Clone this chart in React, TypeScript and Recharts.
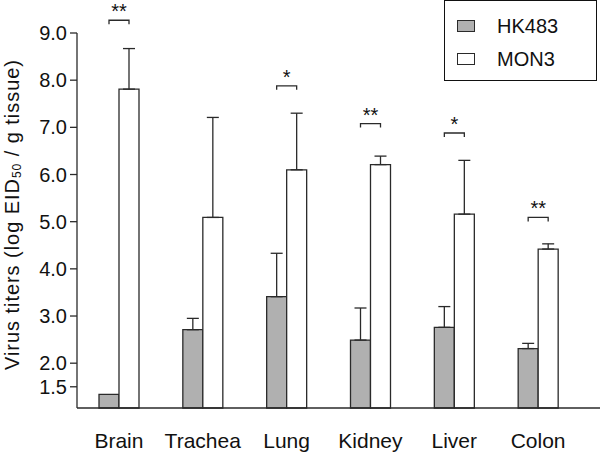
import React from 'react';
import { BarChart, Bar, XAxis, YAxis, ErrorBar, Legend, Rectangle } from 'recharts';

const categories = ['Brain', 'Trachea', 'Lung', 'Kidney', 'Liver', 'Colon'];
const hk483 = [1.34, 2.71, 3.41, 2.49, 2.76, 2.31];
const hk483Err = [null, 0.24, 0.92, 0.68, 0.44, 0.11];
const mon3 = [7.81, 5.09, 6.1, 6.21, 5.16, 4.42];
const mon3Err = [0.86, 2.12, 1.2, 0.18, 1.14, 0.11];
const sigStars = ['**', '', '*', '**', '*', '**'];
const sigLevel = [9.27, null, 7.88, 7.08, 6.88, 5.09];
const yTicks = [1.5, 2, 3, 4, 5, 6, 7, 8, 9];

const Y_MIN = 1.05;
const Y_MAX = 9;
const FONT = 'Liberation Sans, Arial, Helvetica, sans-serif';
const INK = '#2a2a2a';

const chartData = categories.map((name, i) => ({
  name,
  hk: hk483[i],
  hkErr: hk483Err[i] == null ? null : [0, hk483Err[i]],
  mon: mon3[i],
  monErr: [0, mon3Err[i]],
  stars: sigStars[i],
  sig: sigLevel[i],
}));

// white bar + significance bracket spanning both bar centres
function MonShape(props: any) {
  const { x, y, width, height, payload } = props;
  const perUnit = height / (payload.mon - Y_MIN);
  let bracket = null;
  if (payload.sig != null) {
    const by = y + height - (payload.sig - Y_MIN) * perUnit;
    const x1 = x - width / 2;
    const x2 = x + width / 2;
    bracket = (
      <g>
        <path d={`M${x1},${by + 4}V${by}H${x2}V${by + 4}`} fill="none" stroke={INK} strokeWidth={1.3} />
        <text x={(x1 + x2) / 2} y={by - 2} textAnchor="middle" fontSize={20} fontFamily={FONT} fill="#111">
          {payload.stars}
        </text>
      </g>
    );
  }
  return (
    <g>
      <Rectangle x={x} y={y} width={width} height={height} fill="#fff" stroke={INK} strokeWidth={1.3} />
      {bracket}
    </g>
  );
}

function YTitle() {
  const cx = 12;
  const cy = 215;
  return (
    <text
      x={cx}
      y={cy}
      transform={`rotate(-90, ${cx}, ${cy})`}
      textAnchor="middle"
      dominantBaseline="central"
      fontSize={20}
      fontFamily={FONT}
      fill="#111"
      textLength={310}
      lengthAdjust="spacing"
    >
      Virus titers (log EID
      <tspan dy={5} fontSize={12}>50</tspan>
      <tspan dy={-5}> / g tissue)</tspan>
    </text>
  );
}

function LegendBox(props: any) {
  const { payload } = props;
  return (
    <div
      style={{
        position: 'relative',
        width: 153,
        height: 81,
        boxSizing: 'border-box',
        border: '1.5px solid #111',
        background: '#fff',
        fontFamily: FONT,
      }}
    >
      {(payload || []).map((entry: any, i: number) => (
        <React.Fragment key={entry.value}>
          <span
            style={{
              position: 'absolute',
              left: 12,
              top: 19 + i * 32.5,
              width: 18,
              height: 12,
              boxSizing: 'border-box',
              border: `1px solid ${INK}`,
              background: entry.color,
            }}
          />
          <span
            style={{
              position: 'absolute',
              left: 52,
              top: 13 + i * 32.5,
              lineHeight: '24px',
              fontSize: 20,
              color: '#111',
              whiteSpace: 'nowrap',
            }}
          >
            {entry.value}
          </span>
        </React.Fragment>
      ))}
    </div>
  );
}

export default function App() {
  return (
    <div style={{ position: 'absolute', left: 0, top: 0, background: '#fff' }}>
      <BarChart
        width={600}
        height={453}
        data={chartData}
        margin={{ top: 33, right: 0, bottom: 0, left: 0 }}
        barSize={20}
        barGap={0}
      >
        <XAxis
          dataKey="name"
          padding={{ left: 0, right: 20 }}
          height={45}
          tickLine={false}
          tickSize={0}
          tickMargin={25}
          axisLine={{ stroke: INK, strokeWidth: 1.3 }}
          tick={{ fontSize: 21, fontFamily: FONT, fill: '#111' }}
          interval={0}
        />
        <YAxis
          domain={[Y_MIN, Y_MAX]}
          ticks={yTicks}
          interval={0}
          width={77}
          tickSize={7}
          tickMargin={3}
          tickFormatter={(v: number) => v.toFixed(1)}
          axisLine={{ stroke: INK, strokeWidth: 1.3 }}
          tickLine={{ stroke: INK, strokeWidth: 1.3 }}
          tick={{ fontSize: 20, fontFamily: FONT, fill: '#111' }}
          label={<YTitle />}
        />
        <Legend
          layout="vertical"
          align="center"
          verticalAlign="middle"
          wrapperStyle={{ top: 0, left: 444, width: 153, height: 81 }}
          content={<LegendBox />}
        />
        <Bar dataKey="hk" name="HK483" fill="#b0b0b0" stroke={INK} strokeWidth={1.3} isAnimationActive={false}>
          <ErrorBar dataKey="hkErr" width={6} stroke={INK} strokeWidth={1.3} direction="y" isAnimationActive={false} />
        </Bar>
        <Bar dataKey="mon" name="MON3" fill="#ffffff" shape={<MonShape />} isAnimationActive={false}>
          <ErrorBar dataKey="monErr" width={6} stroke={INK} strokeWidth={1.3} direction="y" isAnimationActive={false} />
        </Bar>
      </BarChart>
    </div>
  );
}
